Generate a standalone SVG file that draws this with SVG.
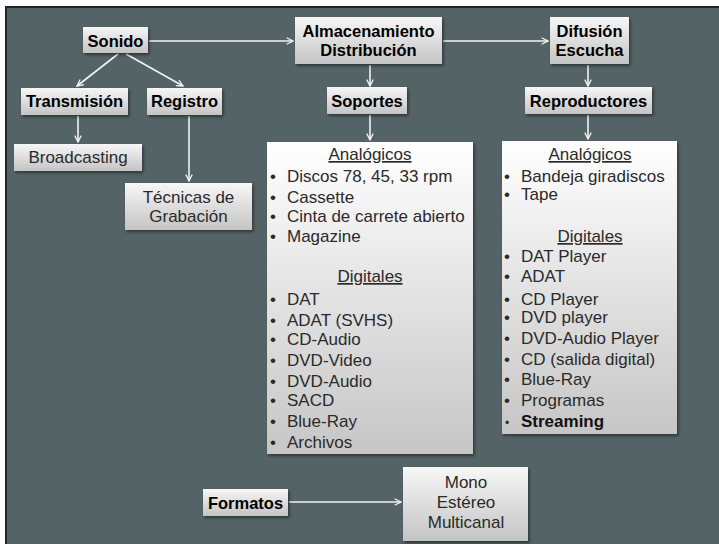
<svg xmlns="http://www.w3.org/2000/svg" width="719" height="544" viewBox="0 0 719 544">
<defs>
<linearGradient id="g" x1="0" y1="0" x2="0" y2="1"><stop offset="0" stop-color="#f7f7f7"/><stop offset="1" stop-color="#c4c4c4"/></linearGradient>
<linearGradient id="gl" x1="0" y1="0" x2="0" y2="1"><stop offset="0" stop-color="#ffffff"/><stop offset="1" stop-color="#c6c6c6"/></linearGradient>
<filter id="sh" x="-20%" y="-20%" width="140%" height="150%"><feDropShadow dx="1.5" dy="2" stdDeviation="1.5" flood-color="#000" flood-opacity="0.45"/></filter>
<marker id="ah" viewBox="0 0 10 10" refX="9" refY="5" markerWidth="8" markerHeight="8" markerUnits="userSpaceOnUse" orient="auto"><path d="M1,1 L9,5 L1,9" fill="none" stroke="#f2f2f2" stroke-width="1.6"/></marker>
</defs>
<style>
.b{fill:url(#g);filter:url(#sh)}
.l{fill:url(#gl);filter:url(#sh)}
.t{font-family:"Liberation Sans",Arial,sans-serif;font-size:16.5px;font-weight:bold;fill:#000;text-anchor:middle}
.r{font-family:"Liberation Sans",Arial,sans-serif;font-size:17px;fill:#2a2a2a}
.c{text-anchor:middle}
.u{text-decoration:underline}
.k{stroke:#f2f2f2;stroke-width:1.6;fill:none;marker-end:url(#ah)}
</style>
<rect x="0" y="0" width="719" height="544" fill="#ffffff"/>
<rect x="6" y="7" width="800" height="600" fill="#546366" stroke="#1e2828" stroke-width="2"/>
<g id="connectors">
<line class="k" x1="118" y1="54" x2="77" y2="86"/>
<line class="k" x1="126" y1="54" x2="183" y2="86"/>
<line class="k" x1="78" y1="116" x2="78" y2="142"/>
<line class="k" x1="189" y1="116" x2="189" y2="181"/>
<line class="k" x1="149" y1="41" x2="293" y2="41"/>
<line class="k" x1="443" y1="41" x2="548" y2="41"/>
<line class="k" x1="370" y1="65" x2="370" y2="86"/>
<line class="k" x1="370" y1="115" x2="370" y2="140"/>
<line class="k" x1="588" y1="65" x2="588" y2="86"/>
<line class="k" x1="588" y1="115" x2="588" y2="139"/>
<line class="k" x1="289" y1="502" x2="401" y2="502"/>
</g>
<g id="sonido"><rect class="b" x="83" y="27" width="65" height="26"/><text class="t" x="115.5" y="47">Sonido</text></g>
<g id="transmision"><rect class="b" x="21" y="88" width="107" height="27"/><text class="t" x="74.5" y="107">Transmisión</text></g>
<g id="registro"><rect class="b" x="147" y="88" width="75" height="27"/><text class="t" x="184.5" y="107">Registro</text></g>
<g id="broadcasting"><rect class="b" x="14" y="144" width="128" height="27"/><text class="r c" x="78" y="163">Broadcasting</text></g>
<g id="tecnicas"><rect class="b" x="125" y="183" width="127" height="47"/><text class="r c" x="188.5" y="203">Técnicas de</text><text class="r c" x="188.5" y="222">Grabación</text></g>
<g id="almacenamiento"><rect class="b" x="295" y="17" width="147" height="47"/><text class="t" x="368.5" y="37">Almacenamiento</text><text class="t" x="368.5" y="56">Distribución</text></g>
<g id="difusion"><rect class="b" x="550" y="17" width="79" height="47"/><text class="t" x="589.5" y="37">Difusión</text><text class="t" x="589.5" y="56">Escucha</text></g>
<g id="soportes"><rect class="b" x="327" y="87" width="80" height="27"/><text class="t" x="367" y="107">Soportes</text></g>
<g id="reproductores"><rect class="b" x="525" y="87" width="127" height="27"/><text class="t" x="588.5" y="107">Reproductores</text></g>
<g id="lista-soportes">
<rect class="l" x="267" y="142" width="206" height="312"/>
<text class="r c u" x="370" y="160">Analógicos</text>
<g class="r">
<text x="270" y="182">•</text><text x="287" y="182">Discos 78, 45, 33 rpm</text>
<text x="270" y="203">•</text><text x="287" y="203">Cassette</text>
<text x="270" y="222">•</text><text x="287" y="222">Cinta de carrete abierto</text>
<text x="270" y="242">•</text><text x="287" y="242">Magazine</text>
</g>
<text class="r c u" x="370" y="282">Digitales</text>
<g class="r">
<text x="270" y="305">•</text><text x="287" y="305">DAT</text>
<text x="270" y="326">•</text><text x="287" y="326">ADAT (SVHS)</text>
<text x="270" y="345">•</text><text x="287" y="345">CD-Audio</text>
<text x="270" y="366">•</text><text x="287" y="366">DVD-Video</text>
<text x="270" y="387">•</text><text x="287" y="387">DVD-Audio</text>
<text x="270" y="406">•</text><text x="287" y="406">SACD</text>
<text x="270" y="427">•</text><text x="287" y="427">Blue-Ray</text>
<text x="270" y="448">•</text><text x="287" y="448">Archivos</text>
</g>
</g>
<g id="lista-reproductores">
<rect class="l" x="502" y="141" width="175" height="293"/>
<text class="r c u" x="590" y="160">Analógicos</text>
<g class="r">
<text x="504" y="182">•</text><text x="521" y="182">Bandeja giradiscos</text>
<text x="504" y="200">•</text><text x="521" y="200">Tape</text>
</g>
<text class="r c u" x="590" y="242">Digitales</text>
<g class="r">
<text x="504" y="262">•</text><text x="521" y="262">DAT Player</text>
<text x="504" y="282">•</text><text x="521" y="282">ADAT</text>
<text x="504" y="305">•</text><text x="521" y="305">CD Player</text>
<text x="504" y="323">•</text><text x="521" y="323">DVD player</text>
<text x="504" y="344">•</text><text x="521" y="344">DVD-Audio Player</text>
<text x="504" y="365">•</text><text x="521" y="365">CD (salida digital)</text>
<text x="504" y="385">•</text><text x="521" y="385">Blue-Ray</text>
<text x="504" y="406">•</text><text x="521" y="406">Programas</text>
<text x="505" y="427" font-size="12">•</text><text x="521" y="427" font-weight="bold" fill="#111">Streaming</text>
</g>
</g>
<g id="formatos"><rect class="b" x="203" y="489" width="85" height="27"/><text class="t" x="245.5" y="509">Formatos</text></g>
<g id="mono"><rect class="b" x="403" y="467" width="125" height="74"/><text class="r c" x="466" y="488">Mono</text><text class="r c" x="466" y="508">Estéreo</text><text class="r c" x="466" y="528">Multicanal</text></g>
</svg>
